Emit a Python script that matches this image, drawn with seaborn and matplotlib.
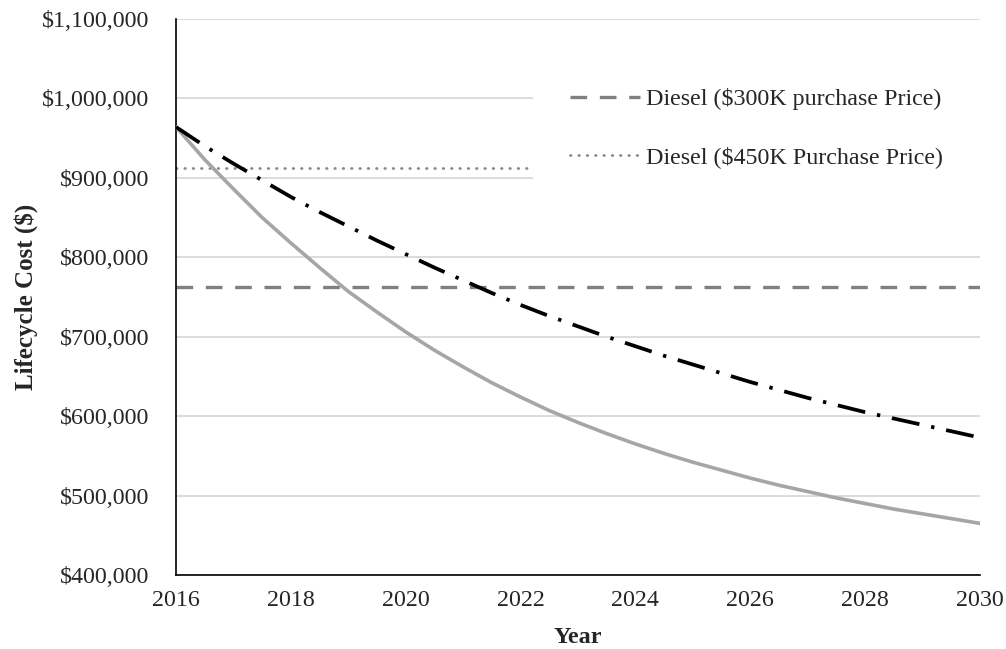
import numpy as np
import pandas as pd
import matplotlib
matplotlib.use("Agg")
import matplotlib.pyplot as plt
import seaborn as sns
from matplotlib.ticker import FuncFormatter

# ---- data (half-year steps) ----
years = [2016.0, 2016.5, 2017.0, 2017.5, 2018.0, 2018.5, 2019.0, 2019.5, 2020.0, 2020.5,
         2021.0, 2021.5, 2022.0, 2022.5, 2023.0, 2023.5, 2024.0, 2024.5, 2025.0, 2025.5,
         2026.0, 2026.5, 2027.0, 2027.5, 2028.0, 2028.5, 2029.0, 2029.5, 2030.0]
electric_a = [964000, 923000, 886000, 850000, 818000, 787000, 757000, 731000, 706000, 683000,
              662000, 642000, 624000, 607000, 592000, 578000, 565000, 553000, 542000, 532000,
              522000, 513000, 505000, 497000, 490000, 483000, 477000, 471000, 465000]
electric_b = [964000, 940000, 918000, 897000, 876000, 857000, 839000, 821000, 804000, 787000,
              771000, 755000, 740000, 726000, 713000, 700000, 688000, 676000, 665000, 654000,
              643000, 633000, 623000, 614000, 605000, 597000, 589000, 581000, 573000]
diesel_300k = [763000] * len(years)
diesel_450k = [913000] * len(years)
label_300k = "Diesel ($300K purchase Price)"
label_450k = "Diesel ($450K Purchase Price)"
x_ticks = [2016, 2018, 2020, 2022, 2024, 2026, 2028, 2030]
y_ticks = [400000, 500000, 600000, 700000, 800000, 900000, 1000000, 1100000]

sns.set_style("white")
plt.rcParams["font.family"] = ["Liberation Serif", "DejaVu Serif"]

FS = 17.3

fig = plt.figure(figsize=(10.06, 6.49), dpi=100)
ax = fig.add_axes([176/1006, 1-575/649, (980-176)/1006, (575-19)/649])

for yt in y_ticks:
    ax.axhline(yt, color="#d9d9d9", lw=1.3, zorder=0)

sns.lineplot(x=years, y=electric_a, ax=ax, color="#a6a6a6", lw=2.6, zorder=3)
sns.lineplot(x=years, y=electric_b, ax=ax, color="black", lw=2.7, zorder=3)
ax.lines[-1].set_dashes((7.5, 3.2, 0.9, 3.2))

sns.lineplot(x=years, y=diesel_300k, ax=ax, color="#808080", lw=2.4, zorder=2)
h300 = ax.lines[-1]
h300.set_dashes((5, 3.8))
h300.set_label(label_300k)
sns.lineplot(x=years, y=diesel_450k, ax=ax, color="#8a8a8a", lw=2.0, zorder=2)
h450 = ax.lines[-1]
h450.set_dash_capstyle("round")
h450.set_dashes((0.2, 2.8))
h450.set_label(label_450k)

ax.set_xlim(2016, 2030)
ax.set_ylim(400000, 1100000)
ax.set_xticks(x_ticks)
ax.set_yticks(y_ticks)
ax.yaxis.set_major_formatter(FuncFormatter(lambda v, p: "${:,.0f}".format(v)))
ax.tick_params(axis="both", labelsize=FS, direction="out", length=5, width=1.2, color="black")
ax.tick_params(axis="y", pad=14)
ax.tick_params(axis="x", pad=6)

for s in ["top", "right"]:
    ax.spines[s].set_visible(False)
for s in ["left", "bottom"]:
    ax.spines[s].set_color("black")
    ax.spines[s].set_linewidth(1.2)

ax.set_xlabel("Year", fontsize=17.5, fontweight="bold", labelpad=11)
ax.set_ylabel("Lifecycle Cost ($)", fontsize=18, fontweight="bold", labelpad=3)

leg = ax.legend(handles=[h300, h450], labels=[label_300k, label_450k],
                loc="upper left", bbox_to_anchor=(0.444, 0.5, 0.57, 0.4425), mode="expand",
                fontsize=FS, frameon=True, framealpha=1, facecolor="white",
                edgecolor="white", fancybox=False, borderpad=1.55,
                handlelength=2.9, handletextpad=0.27, labelspacing=1.5,
                borderaxespad=0)
leg.get_frame().set_linewidth(0)
leg.set_zorder(10)

fig.savefig("out.png", dpi=100)
